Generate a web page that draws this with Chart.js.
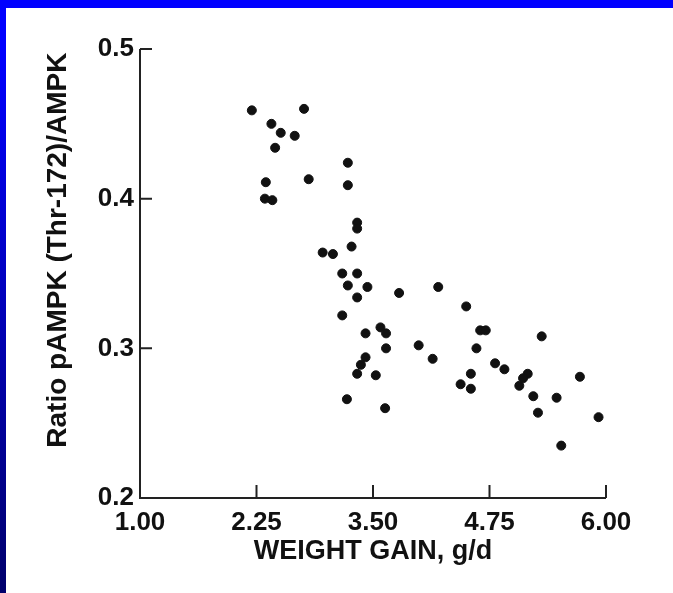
<!DOCTYPE html>
<html lang="en">
<head>
<meta charset="UTF-8">
<title>pAMPK vs weight gain</title>
<script src="https://cdn.jsdelivr.net/npm/chart.js@4.4.1/dist/chart.umd.min.js"></script>
<style>
  html, body { margin: 0; padding: 0; background: #ffffff; }
  body { width: 673px; height: 593px; position: relative; overflow: hidden; }
  .top-bar { position: absolute; left: 0; top: 0; width: 673px; height: 8px; background: #0000ff; z-index: 2; }
  .left-bar { position: absolute; left: 0; top: 0; width: 6px; height: 593px; z-index: 2;
    background: linear-gradient(#0000ff 8%, #00006c 100%); }
  .chart-box { position: absolute; left: 0; top: 0; width: 673px; height: 593px; }
</style>
</head>
<body>
<div class="top-bar"></div>
<div class="left-bar"></div>
<div class="chart-box"><canvas id="scatter"></canvas></div>
<script>
// values
var weightGain = [2.20, 2.76, 2.41, 2.51, 2.66, 2.45, 2.35, 2.81, 2.34, 2.42,
                  3.23, 3.23, 3.33, 3.33, 3.27, 2.96, 3.07, 3.17, 3.33, 3.23,
                  3.44, 3.33, 3.78, 4.20, 4.50, 3.17, 3.58, 3.42, 3.64, 3.64,
                  3.99, 4.14, 3.42, 3.37, 3.33, 3.53, 3.22, 3.63, 4.65, 4.71,
                  5.31, 4.61, 4.81, 4.91, 4.55, 5.16, 5.11, 5.07, 5.72, 4.44,
                  4.55, 5.22, 5.47, 5.27, 5.92, 5.52];
var ratio = [0.459, 0.460, 0.450, 0.444, 0.442, 0.434, 0.411, 0.413, 0.400, 0.399,
             0.424, 0.409, 0.384, 0.380, 0.368, 0.364, 0.363, 0.350, 0.350, 0.342,
             0.341, 0.334, 0.337, 0.341, 0.328, 0.322, 0.314, 0.310, 0.310, 0.300,
             0.302, 0.293, 0.294, 0.289, 0.283, 0.282, 0.266, 0.260, 0.312, 0.312,
             0.308, 0.300, 0.290, 0.286, 0.283, 0.283, 0.280, 0.275, 0.281, 0.276,
             0.273, 0.268, 0.267, 0.257, 0.254, 0.235];
var xTicks = [1.00, 2.25, 3.50, 4.75, 6.00];
var yTicks = [0.2, 0.3, 0.4, 0.5];

var points = weightGain.map(function (w, i) { return { x: w, y: ratio[i] }; });
var family = "'Liberation Sans', Arial, sans-serif";
var tickFont = { family: family, weight: 'bold', size: 26 };

// axis lines with tick marks pointing into the plot
var axesPlugin = {
    id: 'axesInward',
    beforeDatasetsDraw: function (chart) {
        var ctx = chart.ctx, xs = chart.scales.x, ys = chart.scales.y;
        var x0 = xs.getPixelForValue(xTicks[0]);
        var x1 = xs.getPixelForValue(xTicks[xTicks.length - 1]);
        var y0 = ys.getPixelForValue(yTicks[0]);
        var y1 = ys.getPixelForValue(yTicks[yTicks.length - 1]);
        ctx.save();
        ctx.strokeStyle = '#222';
        ctx.lineWidth = 2;
        ctx.beginPath();
        ctx.moveTo(x0, y1);
        ctx.lineTo(x0, y0);
        ctx.lineTo(x1, y0);
        xTicks.forEach(function (v) {
            var px = xs.getPixelForValue(v);
            ctx.moveTo(px, y0);
            ctx.lineTo(px, y0 - 13);
        });
        yTicks.forEach(function (v) {
            var py = ys.getPixelForValue(v);
            ctx.moveTo(x0, py);
            ctx.lineTo(x0 + 12, py);
        });
        ctx.stroke();
        ctx.restore();
    }
};

new Chart(document.getElementById('scatter'), {
    type: 'scatter',
    data: {
        datasets: [{
            data: points,
            backgroundColor: '#111',
            borderColor: '#111',
            pointRadius: 4.5,
            pointHoverRadius: 4.5
        }]
    },
    options: {
        responsive: true,
        maintainAspectRatio: false,
        animation: false,
        layout: { padding: { top: 49, right: 67, bottom: 0, left: 0 } },
        plugins: { legend: { display: false }, tooltip: { enabled: false } },
        scales: {
            x: {
                type: 'linear',
                min: 1, max: 6,
                grid: { display: false, drawTicks: false },
                border: { display: false },
                afterBuildTicks: function (s) { s.ticks = xTicks.map(function (v) { return { value: v }; }); },
                afterFit: function (s) { s.height = 95; },
                ticks: {
                    color: '#111', font: tickFont, padding: 9, maxRotation: 0,
                    callback: function (v) { return v.toFixed(2); }
                },
                title: {
                    display: true, text: 'WEIGHT GAIN, g/d', color: '#111',
                    font: { family: family, weight: 'bold', size: 27 },
                    padding: { top: 0, bottom: 25 }
                }
            },
            y: {
                type: 'linear',
                min: 0.2, max: 0.5,
                grid: { display: false, drawTicks: false },
                border: { display: false },
                afterBuildTicks: function (s) { s.ticks = yTicks.map(function (v) { return { value: v }; }); },
                afterFit: function (s) { s.width = 140; },
                ticks: {
                    color: '#111', font: tickFont, padding: 6,
                    callback: function (v) { return v.toFixed(1); }
                },
                title: {
                    display: true, text: '      Ratio pAMPK (Thr-172)/AMPK', color: '#111',
                    font: { family: family, weight: 'bold', size: 28 },
                    padding: { top: 41, bottom: 0 }
                }
            }
        }
    },
    plugins: [axesPlugin]
});
</script>
</body>
</html>
